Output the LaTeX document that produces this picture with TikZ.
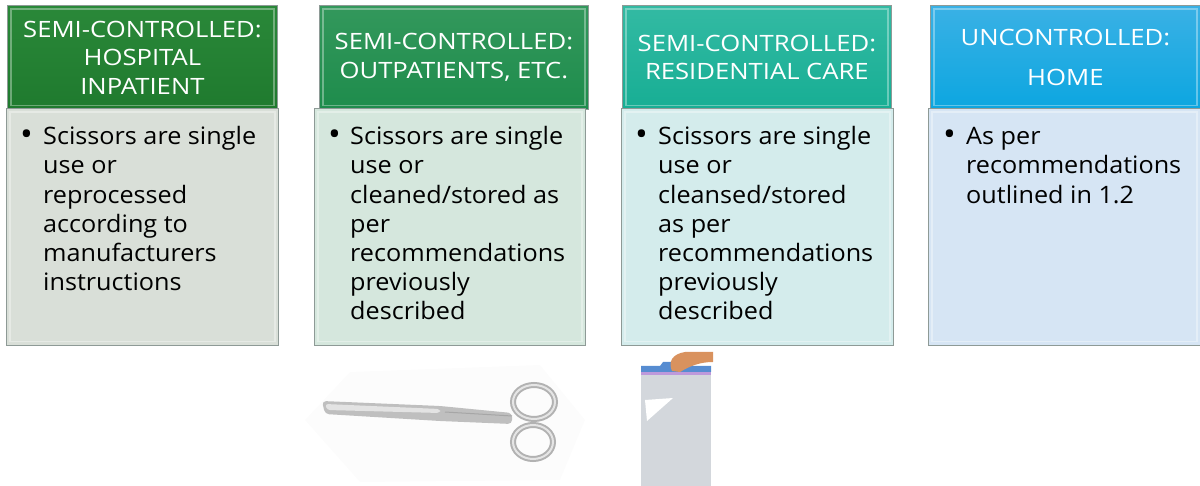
\documentclass[tikz,border=0pt]{standalone}
\usepackage{fontspec}
\setmainfont{Open Sans}
\newfontfamily\hdrfont[FakeStretch=1.14]{Open Sans}
\newfontfamily\bodyfont[FakeStretch=1.05]{Open Sans}
\usetikzlibrary{calc}
\definecolor{hA}{HTML}{1F7A2E}\definecolor{hAt}{HTML}{2A8839}
\definecolor{hB}{HTML}{1E8C4C}\definecolor{hBt}{HTML}{33985C}
\definecolor{hC}{HTML}{17AE94}\definecolor{hCt}{HTML}{33BAA3}
\definecolor{hD}{HTML}{0CA6E0}\definecolor{hDt}{HTML}{3AB1E5}
\definecolor{bA}{HTML}{D9DFD8}
\definecolor{bB}{HTML}{D5E7DD}
\definecolor{bC}{HTML}{D4ECEC}
\definecolor{bD}{HTML}{D6E5F4}
\definecolor{edge}{HTML}{8E9A96}
\definecolor{skin}{HTML}{D9925E}
\definecolor{bag}{HTML}{D3D7DC}
\tikzset{
  hdr/.style={draw=edge, line width=0.8pt, inner sep=0pt, anchor=north west},
  bdy/.style={draw=edge, line width=0.8pt, inner sep=0pt, anchor=north west},
  htext/.style={text=white, font=\hdrfont\fontsize{22.5}{28.5}\selectfont, align=center},
  btext/.style={text=black, font=\bodyfont\fontsize{24}{29.2}\selectfont, align=left, anchor=north west, inner sep=0pt},
  bul/.style={text=black, font=\bodyfont\fontsize{24}{29.2}\selectfont, anchor=north west, inner sep=0pt},
  bevel/.style={draw=white, opacity=0.35, line width=1.4pt},
}
\newcommand{\bigbul}{\raisebox{-0.1ex}{\scalebox{1.35}{\textbullet}}}
\begin{document}
\begin{tikzpicture}[x=1pt,y=-1pt]
\useasboundingbox (0,0) rectangle (1200,486);
% ---------- column 1
\node[hdr, top color=hAt, bottom color=hA, minimum width=270pt, minimum height=104pt] (h1) at (7,5) {};
\node[bdy, fill=bA, minimum width=272pt, minimum height=237pt] (b1) at (6,108) {};
% ---------- column 2
\node[hdr, top color=hBt, bottom color=hB, minimum width=269pt, minimum height=104pt] (h2) at (319,5) {};
\node[bdy, fill=bB, minimum width=271pt, minimum height=237pt] (b2) at (314,108) {};
% ---------- column 3
\node[hdr, top color=hCt, bottom color=hC, minimum width=269pt, minimum height=104pt] (h3) at (622,5) {};
\node[bdy, fill=bC, minimum width=272pt, minimum height=237pt] (b3) at (621,108) {};
% ---------- column 4
\node[hdr, top color=hDt, bottom color=hD, minimum width=270pt, minimum height=104pt] (h4) at (930,5) {};
\node[bdy, fill=bD, minimum width=272pt, minimum height=237pt] (b4) at (928,108) {};
% bevels
\foreach \n in {h1,h2,h3,h4,b1,b2,b3,b4}{
  \draw[bevel] ($(\n.north west)+(4,4)$) rectangle ($(\n.south east)+(-4,-4)$);
}
% ---------- header texts
\node[htext] (t1) at (h1.center) {SEMI-CONTROLLED:\\HOSPITAL\\INPATIENT};
\node[htext] (t2) at (h2.center) {SEMI-CONTROLLED:\\OUTPATIENTS, ETC.};
\node[htext] (t3) at (h3.center) {SEMI-CONTROLLED:\\RESIDENTIAL CARE};
\node[htext, font=\hdrfont\fontsize{22.5}{40}\selectfont] (t4) at (h4.center) {UNCONTROLLED:\\HOME};
% ---------- body texts
\node[bul] (u1) at ($(b1.north west)+(14,16)$) {\strut\bigbul};
\node[btext] (x1) at ($(b1.north west)+(37,16)$) {\strut Scissors are single\\use or\\reprocessed\\according to\\manufacturers\\instructions};
\node[bul] (u2) at ($(b2.north west)+(14,16)$) {\strut\bigbul};
\node[btext] (x2) at ($(b2.north west)+(36,16)$) {\strut Scissors are single\\use or\\cleaned/stored as\\per\\recommendations\\previously\\described};
\node[bul] (u3) at ($(b3.north west)+(14,16)$) {\strut\bigbul};
\node[btext] (x3) at ($(b3.north west)+(37,16)$) {\strut Scissors are single\\use or\\cleansed/stored\\as per\\recommendations\\previously\\described};
\node[bul] (u4) at ($(b4.north west)+(15,16)$) {\strut\bigbul};
\node[btext] (x4) at ($(b4.north west)+(38,16)$) {\strut As per\\recommendations\\outlined in 1.2};
% ---------- scissors
\fill[gray!2] (305,420) -- (350,372) -- (540,365) -- (585,420) -- (560,480) -- (360,482) -- cycle;
\fill[gray!50, rounded corners=4pt] (322,401) -- (440,406) -- (512,413) -- (512,424) -- (440,421) -- (325,414) -- cycle;
\fill[gray!22, rounded corners=3pt] (325,404) -- (440,409) -- (440,413) -- (327,410) -- cycle;
\draw[gray!70, line width=1pt] (445,412) -- (512,416);
\draw[gray!60, line width=6pt] (534,402) ellipse (21pt and 17pt);
\draw[white!80!gray, line width=2pt] (534,402) ellipse (21pt and 17pt);
\draw[gray!60, line width=6pt] (533,442) ellipse (20pt and 17pt);
\draw[white!80!gray, line width=2pt] (533,442) ellipse (20pt and 17pt);
% ---------- bag
\fill[bag] (641,368) rectangle (711,486);
\fill[white] (645,400) -- (673,398) -- (647,421) -- cycle;
\fill[blue!30!violet!40] (641,372) rectangle (711,375);
\fill[cyan!50!blue!70] (641,366) -- (660,366) -- (663,362) -- (690,362) -- (693,366) -- (711,366) -- (711,372) -- (641,372) -- cycle;
\fill[skin] (672,371) .. controls (668,362) and (672,354) .. (685,352) -- (713,352) -- (713,362) .. controls (700,362) and (690,366) .. (680,372) -- cycle;
\end{tikzpicture}
\end{document}
